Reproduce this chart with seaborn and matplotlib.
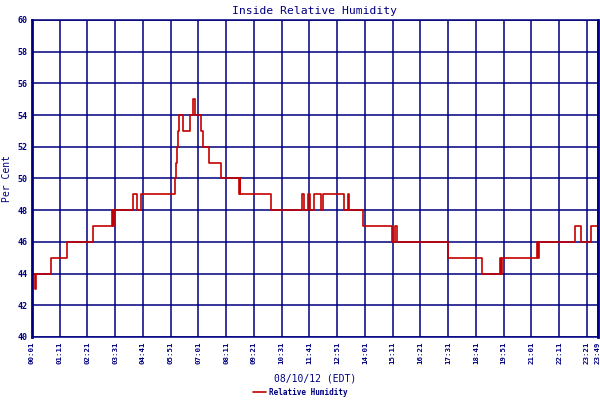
import matplotlib
matplotlib.use("Agg")
import matplotlib.pyplot as plt
import pandas as pd
import seaborn as sns

NAVY = "#000080"
RED = "#c40000"

# step changes: time of change (HH:MM) and new value
change_times = [
    "00:01", "00:08", "00:11", "00:48", "01:29", "02:35", "03:23", "03:26",
    "03:28", "04:15", "04:25", "04:37", "06:02", "06:05", "06:08", "06:10",
    "06:12", "06:22", "06:39", "06:46", "06:53", "07:08", "07:12", "07:27",
    "07:59", "08:43", "08:45", "08:47", "10:04", "11:22", "11:27", "11:37",
    "11:43", "11:52", "12:11", "12:16", "13:07", "13:17", "13:22", "13:55",
    "15:09", "15:16", "15:21", "17:30", "18:56", "19:41", "19:44", "19:47",
    "21:15", "21:17", "21:19", "22:51", "23:05", "23:32", "23:49",
]
humidity = [
    44, 43, 44, 45, 46, 47, 48, 47,
    48, 49, 48, 49, 50, 51, 52, 53,
    54, 53, 54, 55, 54, 53, 52, 51,
    50, 49, 50, 49, 48, 49, 48, 49,
    48, 49, 48, 49, 48, 49, 48, 47,
    46, 47, 46, 45, 44, 45, 44, 45,
    46, 45, 46, 47, 46, 47, 47,
]
tick_labels = [
    "00:01", "01:11", "02:21", "03:31", "04:41", "05:51", "07:01", "08:11",
    "09:21", "10:31", "11:41", "12:51", "14:01", "15:11", "16:21", "17:31",
    "18:41", "19:51", "21:01", "22:11", "23:21", "23:49",
]
y_ticks = list(range(40, 61, 2))


def to_minutes(s):
    h, m = s.split(":")
    return int(h) * 60 + int(m)


df = pd.DataFrame({
    "minute": [to_minutes(t) for t in change_times],
    "value": humidity,
})

sns.set_style("white")
plt.rcParams["font.family"] = ["DejaVu Sans Mono"]

fig = plt.figure(figsize=(6, 4), dpi=100)
ax = fig.add_axes([32 / 600, 63 / 400, 566 / 600, 317 / 400])

sns.lineplot(
    data=df, x="minute", y="value", ax=ax, color=RED, linewidth=1.2,
    drawstyle="steps-post", label="Relative Humidity", legend=False,
)

tick_pos = [to_minutes(t) for t in tick_labels]
ax.set_xlim(tick_pos[0], tick_pos[-1])
ax.set_ylim(40, 60)
ax.set_xticks(tick_pos)
ax.set_xticklabels(tick_labels, rotation=90, fontsize=5.3,
                   fontweight="bold", color=NAVY)
ax.set_yticks(y_ticks)
ax.set_yticklabels([str(v) for v in y_ticks], fontsize=6,
                   fontweight="bold", color=NAVY)
ax.tick_params(length=0, pad=3)

ax.grid(True, color=NAVY, linewidth=1.1)
ax.set_axisbelow(True)
for side, spine in ax.spines.items():
    spine.set_visible(True)
    spine.set_color(NAVY)
    spine.set_linewidth(2.0 if side in ("left", "right") else 1.1)

ax.set_title("Inside Relative Humidity", fontsize=8.2, color=NAVY, pad=4)
ax.set_xlabel("08/10/12 (EDT)", fontsize=7, color=NAVY, labelpad=7)
ax.set_ylabel("Per Cent", fontsize=7, color=NAVY, labelpad=4)

handles, labels = ax.get_legend_handles_labels()
leg = fig.legend(handles, labels, loc="lower center",
                 bbox_to_anchor=(0.5, -0.01), frameon=False,
                 prop={"size": 5.5, "weight": "bold"},
                 handlelength=1.8, handletextpad=0.3)
for t in leg.get_texts():
    t.set_color(NAVY)

fig.savefig("out.png", dpi=100, facecolor="white")
